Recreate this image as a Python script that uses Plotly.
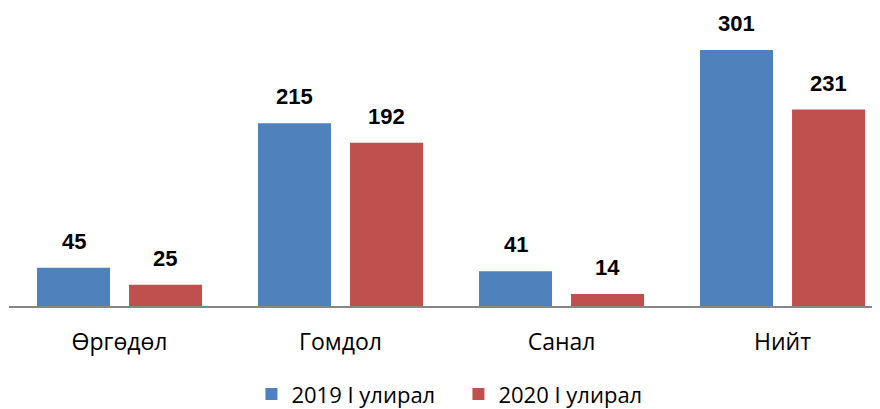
import plotly.graph_objects as go

categories = ["Өргөдөл", "Гомдол", "Санал", "Нийт"]
series_names = ["2019 I улирал", "2020 I улирал"]
values_2019 = [45, 215, 41, 301]
values_2020 = [25, 192, 14, 231]
colors = ["#4F81BD", "#C0504D"]

xpos = list(range(len(categories)))
fig = go.Figure()
for name, vals, col in zip(series_names, [values_2019, values_2020], colors):
    fig.add_trace(go.Bar(x=xpos, y=vals, name=name, marker_color=col,
                         marker_line_width=0))

offset = 0.208
ann = []
for j, vals in enumerate([values_2019, values_2020]):
    for i, v in enumerate(vals):
        ann.append(dict(x=i + (j - 0.5) * 2 * offset, y=v, text=str(v), showarrow=False,
                        xanchor="center", yanchor="bottom", yshift=12,
                        font=dict(family="Liberation Sans", size=22, color="#000000", weight="bold")))

fig.update_layout(
    width=872, height=401,
    margin=dict(l=1, r=0, t=2, b=103, autoexpand=False),
    paper_bgcolor="white", plot_bgcolor="white",
    barmode="group", bargap=0.167, bargroupgap=0.2065,
    annotations=ann,
    xaxis=dict(range=[-0.5, 3.441], tickvals=xpos, ticktext=categories,
               showline=True, linecolor="#868686", linewidth=2, showgrid=False,
               zeroline=False, ticks="", ticklabelstandoff=14,
               tickfont=dict(family="Open Sans", size=23, color="#000000")),
    yaxis=dict(range=[0, 348], visible=False, showgrid=False),
    legend=dict(orientation="h", x=0.516, xanchor="center", y=-0.298, yanchor="middle",
                font=dict(family="Open Sans", size=22, color="#000000"),
                itemwidth=30, tracegroupgap=0, entrywidth=162, entrywidthmode="pixels"),
    showlegend=True,
)
fig.write_html("out.html")
